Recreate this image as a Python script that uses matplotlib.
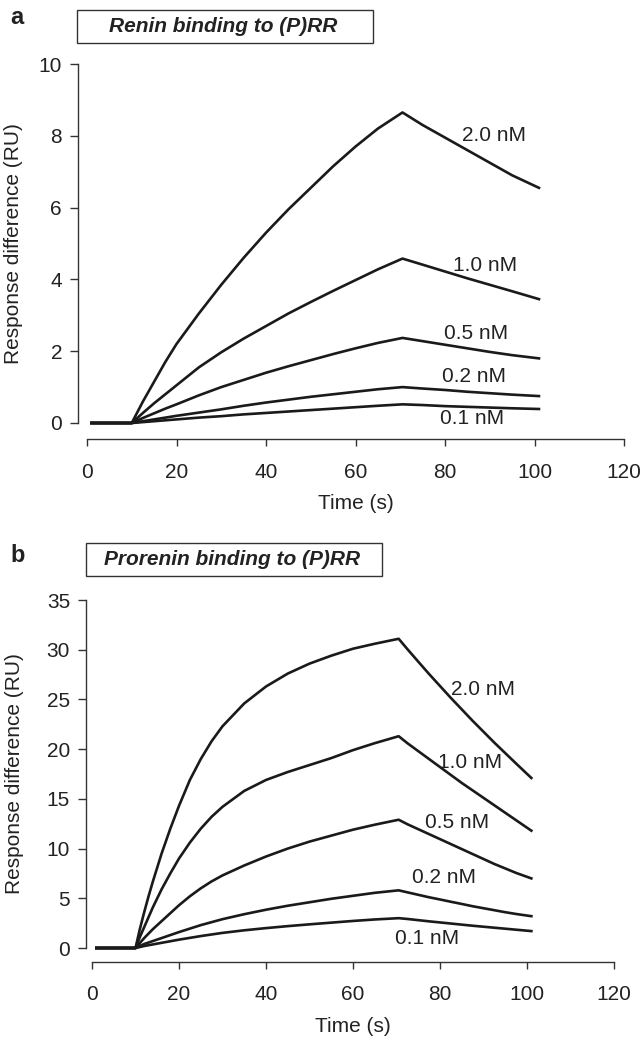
import matplotlib
matplotlib.use("Agg")
import matplotlib.pyplot as plt
from matplotlib.patches import Rectangle

plt.rcParams['font.family'] = ['Liberation Sans', 'DejaVu Sans']

# ---- Panel a: renin binding to (P)RR ----
time_a = [1, 10, 12.5, 15, 17.5, 20, 25, 30, 35, 40, 45, 50, 55, 60, 65, 70.5,
          75, 80, 85, 90, 95, 101]
renin = {
    "2.0 nM": [0, 0, 0.6, 1.15, 1.7, 2.2, 3.05, 3.85, 4.6, 5.3, 5.95, 6.55, 7.15,
               7.7, 8.2, 8.65, 8.3, 7.95, 7.6, 7.25, 6.9, 6.55],
    "1.0 nM": [0, 0, 0.28, 0.55, 0.8, 1.05, 1.55, 1.97, 2.35, 2.7, 3.05, 3.37, 3.68,
               3.98, 4.28, 4.58, 4.41, 4.22, 4.03, 3.85, 3.67, 3.45],
    "0.5 nM": [0, 0, 0.14, 0.27, 0.4, 0.52, 0.77, 1.0, 1.2, 1.4, 1.58, 1.75, 1.92,
               2.08, 2.23, 2.37, 2.28, 2.18, 2.08, 1.98, 1.89, 1.8],
    "0.2 nM": [0, 0, 0.05, 0.1, 0.15, 0.2, 0.29, 0.38, 0.48, 0.57, 0.65, 0.73, 0.8,
               0.87, 0.94, 1.0, 0.96, 0.92, 0.87, 0.83, 0.79, 0.75],
    "0.1 nM": [0, 0, 0.025, 0.05, 0.075, 0.1, 0.15, 0.19, 0.24, 0.28, 0.32, 0.36, 0.4,
               0.44, 0.48, 0.52, 0.5, 0.47, 0.45, 0.43, 0.41, 0.39],
}
label_pos_a = {"2.0 nM": (91, 8.0), "1.0 nM": (89, 4.4), "0.5 nM": (87, 2.5),
               "0.2 nM": (86.5, 1.3), "0.1 nM": (86, 0.13)}

# ---- Panel b: prorenin binding to (P)RR ----
time_b = [1, 10, 11, 12, 13, 14, 15, 16, 18, 20, 22.5, 25, 27.5, 30, 35, 40, 45,
          50, 55, 60, 65, 70.5, 72.5, 75, 77.5, 80, 82.5, 85, 87.5, 90, 92.5, 95,
          97.5, 101]
prorenin = {
    "2.0 nM": [0, 0, 1.9, 3.6, 5.2, 6.7, 8.1, 9.5, 12.0, 14.3, 16.9, 19.0, 20.8,
               22.3, 24.6, 26.3, 27.6, 28.6, 29.4, 30.1, 30.6, 31.1,
               30.06, 28.8, 27.55, 26.35, 25.15, 24.0, 22.85, 21.75, 20.65, 19.6,
               18.55, 17.1],
    "1.0 nM": [0, 0, 1.1, 2.1, 3.1, 4.1, 5.0, 5.9, 7.5, 9.0, 10.6, 12.0, 13.2,
               14.2, 15.8, 16.9, 17.7, 18.4, 19.1, 19.9, 20.6, 21.3,
               20.6, 19.8, 19.0, 18.2, 17.4, 16.6, 15.85, 15.1, 14.35, 13.6,
               12.85, 11.8],
    "0.5 nM": [0, 0, 0.5, 1.0, 1.45, 1.9, 2.3, 2.7, 3.5, 4.3, 5.2, 6.0, 6.7,
               7.3, 8.3, 9.2, 10.0, 10.7, 11.3, 11.9, 12.4, 12.9,
               12.45, 11.95, 11.45, 10.95, 10.45, 9.95, 9.45, 8.95, 8.45, 8.0,
               7.55, 7.0],
    "0.2 nM": [0, 0, 0.2, 0.4, 0.55, 0.7, 0.85, 1.0, 1.3, 1.6, 1.95, 2.3, 2.6,
               2.9, 3.4, 3.85, 4.25, 4.6, 4.95, 5.25, 5.55, 5.8,
               5.6, 5.35, 5.1, 4.88, 4.65, 4.43, 4.2, 4.0, 3.8, 3.6, 3.42, 3.2],
    "0.1 nM": [0, 0, 0.1, 0.2, 0.28, 0.36, 0.44, 0.52, 0.68, 0.84, 1.02, 1.2, 1.36,
               1.52, 1.78, 2.0, 2.2, 2.38, 2.55, 2.72, 2.87, 3.0,
               2.92, 2.8, 2.68, 2.57, 2.46, 2.35, 2.24, 2.14, 2.04, 1.94, 1.84, 1.7],
}
label_pos_b = {"2.0 nM": (90, 26.0), "1.0 nM": (87, 18.7), "0.5 nM": (84, 12.6),
               "0.2 nM": (81, 7.1), "0.1 nM": (77, 1.0)}

W, H = 640, 1042
LINE = "#1a1a1a"
TXT = "#222222"
FS = 15


def px_axes(fig, x0, x1, y_top, y_bot):
    return fig.add_axes([x0 / W, 1 - y_bot / H, (x1 - x0) / W, (y_bot - y_top) / H])


def style_axes(ax, ymax, ystep, left_off, bot_off):
    ax.set_xlim(0, 120)
    ax.set_ylim(0, ymax)
    for s in ["top", "right"]:
        ax.spines[s].set_visible(False)
    ax.spines["left"].set_position(("outward", left_off))
    ax.spines["bottom"].set_position(("outward", bot_off))
    ax.spines["left"].set_bounds(0, ymax)
    ax.spines["bottom"].set_bounds(0, 120)
    for s in ["left", "bottom"]:
        ax.spines[s].set_linewidth(1.0)
        ax.spines[s].set_color("#333333")
    ax.set_xticks(range(0, 121, 20))
    ax.set_yticks([v * ystep for v in range(int(ymax / ystep) + 1)])
    ax.tick_params(axis="y", direction="out", length=5.5, width=1.0, pad=6,
                   labelsize=FS, colors="#333333", labelcolor=TXT)
    ax.tick_params(axis="x", direction="out", length=5, width=1.0, pad=12,
                   labelsize=FS, colors="#333333", labelcolor=TXT)
    ax.set_xlabel("Time (s)", fontsize=FS, color=TXT, labelpad=9)
    ax.set_ylabel("Response difference (RU)", fontsize=FS, color=TXT)
    ax.patch.set_visible(False)


fig = plt.figure(figsize=(W / 100, H / 100), dpi=100)

ax_a = px_axes(fig, 87, 624, 64, 423)
for name, vals in renin.items():
    ax_a.plot(time_a, vals, color=LINE, lw=1.9, clip_on=False, solid_joinstyle="round")
    tx, ty = label_pos_a[name]
    ax_a.text(tx, ty, name, fontsize=FS, color=TXT, ha="center", va="center")
style_axes(ax_a, 10, 2, 6.5, 11.5)
ax_a.yaxis.set_label_coords(-(87 - 23) / (624 - 87), 0.5)

ax_b = px_axes(fig, 92, 614, 600, 948)
for name, vals in prorenin.items():
    ax_b.plot(time_b, vals, color=LINE, lw=1.9, clip_on=False, solid_joinstyle="round")
    tx, ty = label_pos_b[name]
    ax_b.text(tx, ty, name, fontsize=FS, color=TXT, ha="center", va="center")
style_axes(ax_b, 35, 5, 4.3, 10)
ax_b.yaxis.set_label_coords(-(92 - 24) / (614 - 92), 0.5)

# panel letters and boxed titles
fig.text(17 / W, 1 - 18 / H, "a", fontsize=17, fontweight="bold", color=TXT,
         ha="center", va="center")
fig.text(18 / W, 1 - 556 / H, "b", fontsize=17, fontweight="bold", color=TXT,
         ha="center", va="center")

for (x0, x1, y0, y1, title) in [(77, 373, 10, 43, "Renin binding to (P)RR"),
                                (86, 382, 543, 576, "Prorenin binding to (P)RR")]:
    fig.patches.append(Rectangle((x0 / W, 1 - y1 / H), (x1 - x0) / W, (y1 - y0) / H,
                                 transform=fig.transFigure, fill=False,
                                 edgecolor="#333333", lw=1.0))
    fig.text((x0 + x1) / 2 / W - 1.5 / W, 1 - (y0 + y1) / 2 / H, title, fontsize=FS,
             fontweight="bold", fontstyle="italic", color=TXT, ha="center", va="center")

fig.savefig("out.png", dpi=100)
